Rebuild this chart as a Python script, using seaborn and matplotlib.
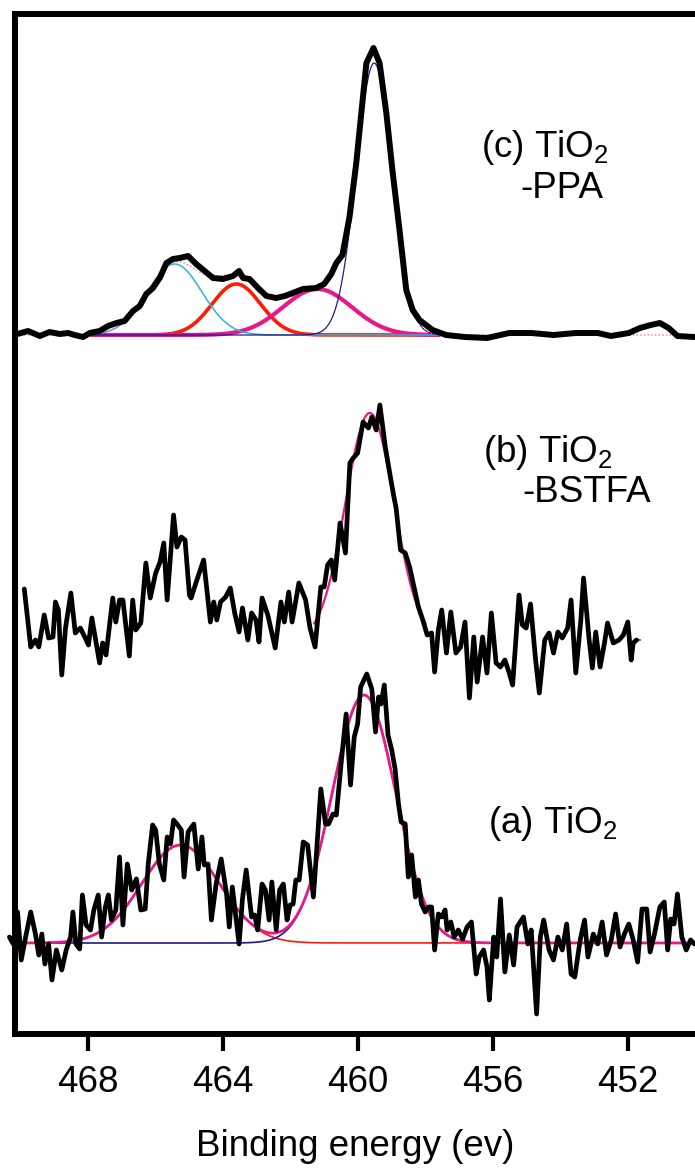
import numpy as np
import matplotlib
matplotlib.use("Agg")
import matplotlib.pyplot as plt
import seaborn as sns

# ---------- data (binding energy in eV, intensity in a.u.) ----------
# (c) TiO2-PPA, intensities relative to its own baseline
energy_c = [470.08, 469.77, 469.42, 469.13, 468.83, 468.58, 468.39, 468.14, 467.94, 467.65,
            467.40, 467.15, 466.91, 466.66, 466.46, 466.27, 466.07, 465.87, 465.67, 465.48,
            465.28, 465.03, 464.79, 464.54, 464.29, 464.00, 463.70, 463.52, 463.40, 463.21,
            462.96, 462.71, 462.42, 462.17, 461.93, 461.63, 461.24, 461.00, 460.79, 460.64,
            460.46, 460.25, 460.05, 459.90, 459.75, 459.54, 459.36, 459.16, 458.98, 458.77,
            458.57, 458.38, 458.18, 457.79, 457.39, 456.83, 456.18, 455.52, 454.87, 454.21,
            453.55, 452.90, 452.51, 451.98, 451.65, 451.33, 451.06, 450.80, 450.54, 450.04]
counts_c = [1, 4, -1, 3, 1, 2, 0, -2, 2, 4,
            9, 12, 14, 24, 29, 41, 47, 57, 72, 76,
            77, 79, 71, 64, 57, 56, 59, 64, 57, 56,
            47, 39, 37, 39, 42, 46, 47, 51, 61, 72,
            80, 118, 172, 222, 272, 287, 272, 222, 165, 105,
            45, 25, 15, 5, 0, -2, -3, 2, 2, 0,
            2, 2, -1, 2, 7, 10, 12, 7, -1, -2]

# (b) TiO2-BSTFA
energy_b = [469.88, 469.69, 469.55, 469.45, 469.29, 469.16, 469.03, 468.96, 468.87, 468.77,
            468.66, 468.50, 468.37, 468.22, 468.09, 467.98, 467.88, 467.65, 467.56, 467.46,
            467.26, 467.17, 467.06, 466.96, 466.77, 466.67, 466.58, 466.43, 466.28, 466.15,
            465.99, 465.86, 465.75, 465.65, 465.46, 465.36, 465.23, 465.12, 464.99, 464.94,
            464.77, 464.57, 464.37, 464.27, 464.18, 464.07, 463.92, 463.78, 463.65, 463.52,
            463.42, 463.26, 463.15, 463.02, 462.93, 462.84, 462.67, 462.45, 462.28, 462.18,
            462.05, 461.95, 461.75, 461.55, 461.42, 461.27, 461.10, 461.00, 460.90, 460.79,
            460.69, 460.53, 460.37, 460.24, 460.14, 460.01, 459.85, 459.69, 459.59, 459.46,
            459.35, 459.19, 459.06, 458.93, 458.87, 458.74, 458.60, 458.47, 458.34, 458.21,
            458.08, 457.95, 457.82, 457.73, 457.62, 457.52, 457.38, 457.25, 457.10, 456.96,
            456.83, 456.70, 456.57, 456.47, 456.31, 456.18, 456.05, 455.91, 455.78, 455.65,
            455.52, 455.42, 455.23, 455.13, 455.02, 454.89, 454.74, 454.63, 454.47, 454.34,
            454.21, 454.08, 453.95, 453.79, 453.69, 453.55, 453.40, 453.32, 453.16, 453.06,
            452.96, 452.83, 452.70, 452.61, 452.44, 452.27, 452.14, 452.01, 451.91, 451.85,
            451.75]
counts_b = [51, -7, 0, -7, 25, 2, 3, 38, 30, -35,
            12, 47, 7, 12, 3, -5, 22, -23, -3, -15,
            42, 18, 40, 40, -16, 40, 10, 17, 77, 42,
            67, 78, 97, 40, 125, 93, 103, 100, 45, 42,
            60, 80, 18, 38, 20, 38, 43, 52, 27, 8,
            32, 0, 27, 20, -2, 42, 25, -8, 38, 18,
            48, 18, 57, 40, 12, -7, 53, 53, 75, 80,
            60, 117, 87, 177, 182, 187, 218, 212, 223, 210,
            235, 193, 167, 142, 132, 90, 87, 73, 53, 33,
            20, 5, 7, -32, 10, 30, -13, 28, -13, -7,
            18, -58, 3, -42, 3, -33, 27, -23, -27, -20,
            -33, -45, 45, 15, 12, 36, -20, -53, 0, 7,
            -13, 8, 2, 12, 40, -33, 20, 62, 2, -28,
            8, -27, -3, 17, -3, 0, 5, 18, -20, -3,
            0]

# (a) TiO2
energy_a = [470.32, 470.21, 470.08, 469.97, 469.84, 469.69, 469.55, 469.45, 469.36, 469.27,
            469.16, 469.06, 468.93, 468.77, 468.64, 468.51, 468.44, 468.35, 468.24, 468.16,
            468.05, 467.92, 467.82, 467.69, 467.59, 467.48, 467.39, 467.30, 467.17, 467.06,
            466.96, 466.83, 466.70, 466.56, 466.43, 466.30, 466.21, 466.08, 465.99, 465.88,
            465.75, 465.65, 465.55, 465.46, 465.36, 465.23, 465.15, 465.03, 464.86, 464.73,
            464.62, 464.55, 464.44, 464.34, 464.20, 464.05, 463.89, 463.81, 463.72, 463.52,
            463.42, 463.31, 463.15, 463.06, 462.97, 462.84, 462.74, 462.63, 462.55, 462.42,
            462.32, 462.21, 462.10, 462.01, 461.92, 461.84, 461.74, 461.62, 461.49, 461.32,
            461.23, 461.10, 460.96, 460.87, 460.74, 460.64, 460.50, 460.35, 460.22, 460.11,
            460.01, 459.92, 459.74, 459.59, 459.48, 459.39, 459.32, 459.22, 459.11, 459.00,
            458.90, 458.80, 458.72, 458.60, 458.51, 458.41, 458.30, 458.21, 458.12, 458.01,
            457.91, 457.82, 457.73, 457.62, 457.52, 457.42, 457.36, 457.25, 457.15, 457.03,
            456.90, 456.77, 456.64, 456.50, 456.41, 456.28, 456.18, 456.11, 455.98, 455.89,
            455.78, 455.65, 455.52, 455.39, 455.29, 455.10, 454.97, 454.87, 454.71, 454.60,
            454.50, 454.34, 454.21, 454.08, 453.95, 453.82, 453.69, 453.58, 453.42, 453.29,
            453.19, 453.03, 452.90, 452.77, 452.64, 452.50, 452.37, 452.24, 452.11, 451.98,
            451.85, 451.72, 451.59, 451.45, 451.35, 451.22, 451.06, 450.93, 450.83, 450.74,
            450.64, 450.54, 450.41, 450.28, 450.15, 450.04]
counts_a = [6, -1, 31, -17, 6, 31, 9, -12, 9, -21,
            -1, -37, -7, -27, -7, 6, 31, -1, -6, 48,
            18, 13, 33, 48, 6, 36, 48, 23, 33, 86,
            18, 79, 53, 64, 33, 34, 79, 118, 113, 79,
            63, 106, 99, 123, 119, 113, 66, 111, 119, 74,
            106, 78, 79, 23, 59, 84, 49, 16, 56, -1,
            44, 73, 26, 28, 13, 59, 53, 23, 61, 13,
            53, 59, 23, 38, 39, 63, 63, 101, 98, 46,
            89, 154, 119, 119, 129, 128, 179, 229, 158, 206,
            219, 256, 269, 254, 211, 246, 239, 258, 208, 193,
            174, 139, 121, 119, 66, 88, 46, 63, 39, 31,
            36, 36, -7, 29, 26, 33, 13, 21, 6, 13,
            4, 16, 21, -31, -14, -7, -24, -57, 6, -14,
            44, -29, 8, -22, 16, 26, -1, 13, -71, 6,
            23, -7, -17, 6, -7, 19, -31, -34, 3, 23,
            -14, 9, -1, 21, -12, 3, 29, -4, 9, 19,
            3, -19, 34, 34, -9, 9, 36, 41, -7, 24,
            19, 49, 6, -7, 3, -1]

# vertical offsets used to stack the three spectra
offsets = {"a": 91, "b": 394, "c": 699}

# Gaussian peak-fit components: centre (eV), height, sigma (eV)
fit_c_centres = [465.43, 463.60, 461.20, 459.52]
fit_c_heights = [71, 51, 46, 272]
fit_c_sigmas = [0.81, 0.72, 1.02, 0.53]
fit_c_colors = ["#2BB3D9", "#FF1A00", "#E8178A", "#1B1A8F"]
fit_c_widths = [1.1, 2.6, 3.0, 0.9]

fit_b_centres = [459.65]
fit_b_heights = [227]
fit_b_sigmas = [0.72]
fit_b_ranges = [(461.3, 458.0), (451.80, 451.66)]

fit_a_centres = [465.25, 459.82]
fit_a_heights = [98, 248]
fit_a_sigmas = [1.15, 0.94]
fit_a_colors = ["#FF1A00", "#1B1A8F"]

xticks = [468, 464, 460, 456, 452]
labels = {"a": "(a) TiO$_2$", "b": "(b) TiO$_2$", "c": "(c) TiO$_2$"}


def gauss(e, centre, height, sigma):
    return height * np.exp(-(e - centre) ** 2 / (2 * sigma ** 2))


########## style ##########
sns.set_style("white")
plt.rcParams["font.family"] = ["Liberation Sans", "DejaVu Sans"]
plt.rcParams["mathtext.fontset"] = "custom"
plt.rcParams["mathtext.rm"] = "Liberation Sans"
plt.rcParams["mathtext.it"] = "Liberation Sans:italic"
plt.rcParams["mathtext.bf"] = "Liberation Sans:bold"
plt.rcParams["text.color"] = "black"
plt.rcParams["axes.labelcolor"] = "black"
plt.rcParams["xtick.color"] = "black"
plt.rcParams["xtick.labelcolor"] = "black"

fig = plt.figure(figsize=(6.95, 11.74), dpi=100)
ax = fig.add_axes([14.5 / 695, 140 / 1174, 680.5 / 695, 1020 / 1174])

########## (c) TiO2-PPA ##########
grid_c = np.linspace(467.9, 457.6, 400)
grid_full = np.linspace(470.1, 450.0, 600)
order = [1, 2, 0, 3]
for i in order:
    sns.lineplot(x=grid_c,
                 y=offsets["c"] + gauss(grid_c, fit_c_centres[i], fit_c_heights[i], fit_c_sigmas[i]),
                 color=fit_c_colors[i], linewidth=fit_c_widths[i], ax=ax, estimator=None)
env_c = sum(gauss(grid_full, c, h, s) for c, h, s in zip(fit_c_centres, fit_c_heights, fit_c_sigmas))
ax.plot(grid_full, offsets["c"] + env_c, color="#F06AB0", linewidth=1.0, linestyle=":")
sns.lineplot(x=energy_c, y=np.array(counts_c) + offsets["c"], color="black",
             linewidth=4.3, ax=ax, estimator=None)

########## (b) TiO2-BSTFA ##########
for lo, hi in fit_b_ranges:
    grid_b = np.linspace(lo, hi, 200)
    env_b = sum(gauss(grid_b, c, h, s) for c, h, s in zip(fit_b_centres, fit_b_heights, fit_b_sigmas))
    sns.lineplot(x=grid_b, y=offsets["b"] + env_b, color="#E8178A", linewidth=1.6, ax=ax, estimator=None)
sns.lineplot(x=energy_b, y=np.array(counts_b) + offsets["b"], color="black",
             linewidth=3.4, ax=ax, estimator=None)

########## (a) TiO2 ##########
grid_a = np.linspace(470.3, 450.0, 600)
for c, h, s, col in zip(fit_a_centres, fit_a_heights, fit_a_sigmas, fit_a_colors):
    sns.lineplot(x=grid_a, y=offsets["a"] + gauss(grid_a, c, h, s), color=col,
                 linewidth=1.2, ax=ax, estimator=None)
env_a = sum(gauss(grid_a, c, h, s) for c, h, s in zip(fit_a_centres, fit_a_heights, fit_a_sigmas))
sns.lineplot(x=grid_a, y=offsets["a"] + env_a, color="#E8178A", linewidth=2.0, ax=ax, estimator=None)
line_a = sns.lineplot(x=energy_a, y=np.array(counts_a) + offsets["a"], color="black",
                      linewidth=3.4, ax=ax, estimator=None)
line_a.lines[-1].set_clip_on(False)

########## labels ##########
ax.text(0.6855, 0.860, labels["c"], transform=ax.transAxes, fontsize=26.5, va="baseline")
ax.text(0.744, 0.8196, "-PPA", transform=ax.transAxes, fontsize=26.5, va="baseline")
ax.text(0.688, 0.5608, labels["b"], transform=ax.transAxes, fontsize=26.5, va="baseline")
ax.text(0.747, 0.5216, "-BSTFA", transform=ax.transAxes, fontsize=26.5, va="baseline")
ax.text(0.696, 0.197, labels["a"], transform=ax.transAxes, fontsize=26.5, va="baseline")

########## axes ##########
ax.set_xlim(470.17, 450.02)
ax.set_ylim(0, 1020)
ax.set_xticks(xticks)
ax.set_xticklabels([str(t) for t in xticks])
ax.set_yticks([])
ax.set_xlabel("Binding energy (ev)", fontsize=26.5, labelpad=21)
ax.set_ylabel("")
ax.tick_params(axis="x", direction="out", length=12, width=3, labelsize=26.5, pad=10,
               bottom=True, color="black")
for side in ["left", "top", "bottom"]:
    ax.spines[side].set_linewidth(4.3)
    ax.spines[side].set_color("black")
ax.spines["right"].set_visible(False)

fig.savefig("out.png", dpi=100)
